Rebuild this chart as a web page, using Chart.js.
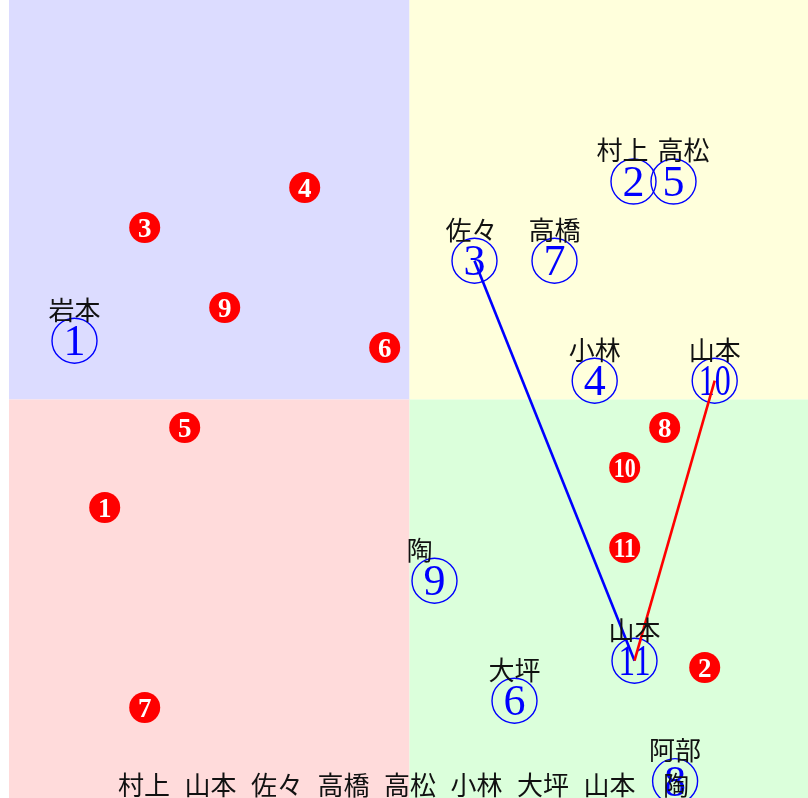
<!DOCTYPE html>
<html><head><meta charset="utf-8">
<script src="https://cdn.jsdelivr.net/npm/chart.js@4"></script>
<style>html,body{margin:0;padding:0;background:#fff;overflow:hidden}</style>
</head><body>
<canvas id="c" width="808" height="798"></canvas>
<script>
// ---- data ----
const blueNumbers = [1, 2, 3, 4, 5, 6, 7, 8, 9, 10, 11];
const blueNames = ['岩本', '村上', '佐々', '小林', '高松', '大坪', '高橋', '阿部', '陶', '山本', '山本'];
const blueX = [-8.375, 5.6, 1.625, 4.63, 6.6, 2.625, 3.625, 6.64, 0.625, 7.63, 5.625];
const blueY = [1.47, 5.45, 3.47, 0.47, 5.45, -7.53, 3.47, -9.54, -4.53, 0.47, -6.53];
const redNumbers = [1, 2, 3, 4, 5, 6, 7, 8, 9, 10, 11];
const redX = [-7.62, 7.38, -6.62, -2.62, -5.62, -0.62, -6.62, 6.38, -4.62, 5.38, 5.38];
const redY = [-2.7, -6.7, 4.3, 5.3, -0.7, 1.3, -7.7, -0.7, 2.3, -1.7, -3.7];
const bottomNames = ['村上', '山本', '佐々', '高橋', '高松', '小林', '大坪', '山本', '陶'];
const bluePath = [3, 11];   // ③ → ⑪
const redPath = [10, 11];   // ⑩ → ⑪

const bluePts = blueX.map((x, i) => ({x, y: blueY[i]}));
const redPts = redX.map((x, i) => ({x, y: redY[i]}));
const pathPts = p => p.map(n => bluePts[blueNumbers.indexOf(n)]);

const BLUE = '#0000ff', RED = '#ff0000';

function drawNum(ctx, txt, cx, cy, font, color, maxW) {
  ctx.save();
  ctx.font = font;
  ctx.fillStyle = color;
  ctx.textAlign = 'center';
  ctx.textBaseline = 'alphabetic';
  const m = ctx.measureText(txt);
  const sx = m.width > maxW ? maxW / m.width : 1;
  ctx.translate(cx, cy);
  ctx.scale(sx, 1);
  ctx.fillText(txt, 0, (m.actualBoundingBoxAscent - m.actualBoundingBoxDescent) / 2);
  ctx.restore();
}

const quadrants = {
  id: 'quadrants',
  beforeDatasetsDraw(chart) {
    const {ctx, chartArea: a, scales: {x, y}} = chart;
    const x0 = x.getPixelForValue(0), y0 = y.getPixelForValue(0);
    ctx.save();
    ctx.fillStyle = 'rgb(220,220,255)'; ctx.fillRect(a.left, a.top, x0 - a.left, y0 - a.top);
    ctx.fillStyle = 'rgb(255,255,220)'; ctx.fillRect(x0, a.top, a.right - x0, y0 - a.top);
    ctx.fillStyle = 'rgb(255,219,219)'; ctx.fillRect(a.left, y0, x0 - a.left, a.bottom - y0);
    ctx.fillStyle = 'rgb(219,255,219)'; ctx.fillRect(x0, y0, a.right - x0, a.bottom - y0);
    ctx.restore();
  }
};

const marks = {
  id: 'marks',
  afterDatasetDraw(chart, args) {
    const ctx = chart.ctx;
    const ds = chart.data.datasets[args.index];
    if (ds.kind === 'red') {
      args.meta.data.forEach((el, i) => drawNum(ctx, String(redNumbers[i]), el.x, el.y,
        'bold 27px "Liberation Serif"', '#ffffff', 22));
    } else if (ds.kind === 'blue') {
      args.meta.data.forEach((el, i) => drawNum(ctx, String(blueNumbers[i]), el.x, el.y,
        '44px "Liberation Serif"', BLUE, 32));
    }
  },
  afterDatasetsDraw(chart, args, opts) {
    const ctx = chart.ctx;
    const meta = chart.getDatasetMeta(1);
    ctx.save();
    ctx.font = '26px "Noto Sans CJK JP"';
    ctx.fillStyle = '#111';
    ctx.textAlign = 'center';
    ctx.textBaseline = 'middle';
    meta.data.forEach((el, i) => {
      const dx = opts.shift[blueNumbers[i]] || 0;
      ctx.fillText(blueNames[i], el.x + dx, el.y - 31);
    });
    bottomNames.forEach((n, i) => ctx.fillText(n, 144 + 66.5 * i, 785));
    ctx.restore();
  }
};

new Chart(document.getElementById('c'), {
  type: 'scatter',
  data: {
    datasets: [
      {kind: 'red', data: redPts, pointRadius: 15.5, pointBackgroundColor: RED, pointBorderWidth: 0, clip: false, order: 4},
      {kind: 'blue', data: bluePts, pointRadius: 22.5, pointBackgroundColor: 'rgba(0,0,0,0)', pointBorderColor: BLUE, pointBorderWidth: 1.4, clip: false, order: 3},
      {type: 'line', data: pathPts(bluePath), borderColor: BLUE, borderWidth: 2.6, pointRadius: 0, fill: false, clip: false, order: 2},
      {type: 'line', data: pathPts(redPath), borderColor: RED, borderWidth: 2.6, pointRadius: 0, fill: false, clip: false, order: 1}
    ]
  },
  options: {
    responsive: false,
    animation: false,
    events: [],
    layout: {autoPadding: false, padding: {left: 9, right: 0, top: 0, bottom: 0}},
    scales: {
      x: {type: 'linear', min: -10.0125, max: 9.9625, display: false},
      y: {type: 'linear', min: -9.9625, max: 9.9875, display: false}
    },
    plugins: {
      legend: {display: false},
      tooltip: {enabled: false},
      marks: {shift: {2: -11, 5: 10, 9: -15, 3: -3}}
    }
  },
  plugins: [quadrants, marks]
});
</script>
</body></html>
